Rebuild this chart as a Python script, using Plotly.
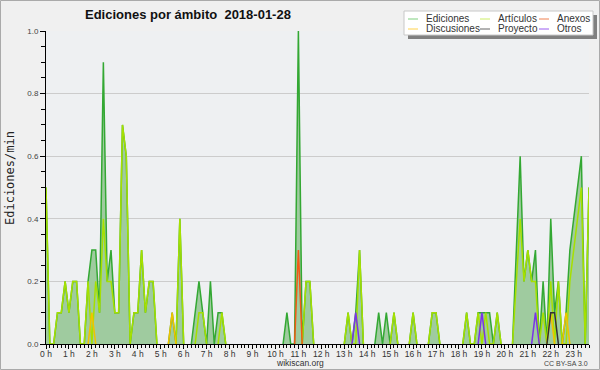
import plotly.graph_objects as go

# 10-minute bins from 00:00 to 23:40 (edits per minute)
ediciones = [
    0.5, 0, 0, 0.1, 0.1, 0.2, 0.1, 0.2, 0.2, 0, 0, 0.2,
    0.3, 0.3, 0.1, 0.9, 0.2, 0.3, 0.1, 0.1, 0.7, 0.6, 0, 0.1,
    0.1, 0.3, 0.1, 0.2, 0.2, 0, 0, 0, 0, 0.1, 0, 0.4,
    0, 0, 0, 0.1, 0.2, 0.1, 0, 0.2, 0, 0.1, 0.1, 0,
    0, 0, 0, 0, 0, 0, 0, 0, 0, 0, 0, 0,
    0, 0, 0, 0.1, 0, 0, 1.0, 0, 0.2, 0.2, 0, 0,
    0, 0, 0, 0, 0, 0, 0, 0.1, 0, 0.1, 0.3, 0,
    0, 0, 0, 0.1, 0, 0.1, 0, 0.1, 0, 0, 0, 0,
    0.1, 0, 0, 0, 0, 0.1, 0.1, 0, 0, 0, 0, 0,
    0, 0, 0.1, 0, 0, 0.1, 0.1, 0.1, 0.1, 0, 0.1, 0,
    0, 0, 0, 0.3, 0.6, 0.2, 0.3, 0.2, 0.3, 0, 0.2, 0,
    0.4, 0.1, 0.2, 0, 0.1, 0.3, 0.4, 0.5, 0.6, 0, 0.5,
]
articulos = [
    0.5, 0, 0, 0.1, 0.1, 0.2, 0.1, 0.2, 0.2, 0, 0, 0.2,
    0, 0.2, 0.1, 0.4, 0.2, 0.2, 0.1, 0.1, 0.7, 0.6, 0, 0.1,
    0.1, 0.3, 0.1, 0.2, 0.2, 0, 0, 0, 0, 0, 0, 0.4,
    0, 0, 0, 0, 0.1, 0.1, 0, 0, 0, 0, 0.1, 0,
    0, 0, 0, 0, 0, 0, 0, 0, 0, 0, 0, 0,
    0, 0, 0, 0, 0, 0, 0, 0, 0.2, 0.2, 0, 0,
    0, 0, 0, 0, 0, 0, 0, 0.1, 0, 0, 0.3, 0,
    0, 0, 0, 0, 0, 0, 0, 0.1, 0, 0, 0, 0,
    0.1, 0, 0, 0, 0, 0.1, 0.1, 0, 0, 0, 0, 0,
    0, 0, 0.1, 0, 0, 0.1, 0, 0.1, 0, 0, 0.1, 0,
    0, 0, 0, 0.2, 0.4, 0.2, 0.3, 0.2, 0.2, 0, 0.1, 0,
    0.2, 0, 0.2, 0, 0, 0.2, 0.3, 0.4, 0.5, 0, 0.5,
]
N = len(ediciones)
discusiones_bins = [12, 33, 132, 136]
discusiones_vals = [0.1, 0.1, 0.1, 0.1]
proyecto_bins = [132, 133]
proyecto_vals = [0.1, 0.1]
anexos_bins = [66]
anexos_vals = [0.3]
otros_bins = [81, 114, 128]
otros_vals = [0.1, 0.1, 0.1]


def dense(bins, vals):
    out = [0.0] * N
    for b, v in zip(bins, vals):
        out[b] = v
    return out


def trim_baseline(vals):
    # hide runs of zeros (keep the zeros next to non-zero values so peaks close)
    out = []
    for i, v in enumerate(vals):
        prev_nz = i > 0 and vals[i - 1] != 0
        next_nz = i < len(vals) - 1 and vals[i + 1] != 0
        out.append(v if (v != 0 or prev_nz or next_nz) else None)
    return out


discusiones = dense(discusiones_bins, discusiones_vals)
proyecto = dense(proyecto_bins, proyecto_vals)
anexos = dense(anexos_bins, anexos_vals)
otros = dense(otros_bins, otros_vals)

hours = [i / 6 for i in range(N)]
hour_ticks = list(range(24))
hour_labels = [f"{h} h" for h in hour_ticks]

FONT = "Liberation Sans, Arial, sans-serif"

series = [
    ("Ediciones", ediciones, "#33a833"),
    ("Artículos", articulos, "#a6e000"),
    ("Discusiones", discusiones, "#f2c200"),
    ("Proyecto", proyecto, "#333333"),
    ("Anexos", anexos, "#f25a14"),
    ("Otros", otros, "#7a33e8"),
]

fig = go.Figure()
for name, vals, color in series:
    kw = {}
    if name == "Ediciones":
        kw = dict(fill="tozeroy", fillcolor="#9fcb9f")
    fig.add_trace(go.Scatter(x=hours, y=trim_baseline(vals), mode="lines", name=name,
                             line=dict(color=color, width=1.5), connectgaps=False,
                             showlegend=False, hoverinfo="skip", **kw))

L, R, T, B = 46, 589, 31, 344
W, H = R - L, B - T


def px(x):
    return (x - L) / W


def py(y):
    return (B - y) / H


shapes = [
    dict(type="rect", xref="paper", yref="paper", x0=px(0.5), x1=px(599.5),
         y0=py(369.5), y1=py(0.5), line=dict(color="#aaaaaa", width=1), layer="above"),
    dict(type="rect", xref="paper", yref="paper", x0=px(408), x1=px(597),
         y0=py(39), y1=py(15), line=dict(width=0), fillcolor="#808080", layer="above"),
    dict(type="rect", xref="paper", yref="paper", x0=px(404), x1=px(593),
         y0=py(35), y1=py(11), line=dict(color="#c8c8c8", width=1),
         fillcolor="#ffffff", layer="above"),
]

legend_items = [
    ("Ediciones", "#7fcf7f", 408, 19),
    ("Artículos", "#cdee66", 480, 19),
    ("Anexos", "#f08050", 539, 19),
    ("Discusiones", "#ffd24d", 408, 29),
    ("Proyecto", "#666666", 480, 29),
    ("Otros", "#9a5cf0", 539, 29),
]
annotations = []
for name, color, lx, ly in legend_items:
    shapes.append(dict(type="line", xref="paper", yref="paper", x0=px(lx), x1=px(lx + 10),
                       y0=py(ly), y1=py(ly), line=dict(color=color, width=1), layer="above"))
    annotations.append(dict(text=name, xref="paper", yref="paper", x=px(lx + 16), y=py(ly),
                            xanchor="left", yanchor="middle", showarrow=False,
                            font=dict(family=FONT, size=10, color="#333333")))

annotations += [
    dict(text="<b>Ediciones por ámbito\u00a0\u00a02018-01-28</b>", xref="paper", yref="paper",
         x=px(188), y=py(14), xanchor="center", yanchor="middle", showarrow=False,
         font=dict(family=FONT, size=13, color="#111111")),
    dict(text="Ediciones/min", xref="paper", yref="paper", x=px(10), y=py(178),
         xanchor="center", yanchor="middle", textangle=-90, showarrow=False,
         font=dict(family="DejaVu Sans Mono, monospace", size=12, color="#222222")),
    dict(text="wikiscan.org", xref="paper", yref="paper", x=px(300), y=py(362.5),
         xanchor="center", yanchor="middle", showarrow=False,
         font=dict(family=FONT, size=8.5, color="#333333")),
    dict(text="CC BY-SA 3.0", xref="paper", yref="paper", x=px(590), y=py(363),
         xanchor="right", yanchor="middle", showarrow=False,
         font=dict(family=FONT, size=7, color="#444444")),
]

fig.update_layout(
    width=600, height=370,
    margin=dict(l=L, r=600 - R, t=T, b=370 - B, pad=0),
    paper_bgcolor="#f0f0f0", plot_bgcolor="#eef0f2",
    font=dict(family=FONT, size=9, color="#333333"),
    showlegend=False,
    shapes=shapes, annotations=annotations,
    xaxis=dict(range=[0, hours[-1]], tickmode="array", tickvals=hour_ticks,
               ticktext=hour_labels, ticks="outside", ticklen=4, tickcolor="#000000",
               tickwidth=1, showgrid=False, zeroline=False, showline=True,
               linecolor="#000000", linewidth=1, tickfont=dict(size=8.5, color="#333333"),
               ticklabelstandoff=-2,
               minor=dict(tickmode="array", tickvals=hours, ticks="outside", ticklen=3,
                          tickcolor="#000000", tickwidth=1, showgrid=False)),
    yaxis=dict(range=[0, 1.0], dtick=0.2, tick0=0, tickformat=".1f", ticks="outside",
               ticklen=5, tickcolor="#000000", tickwidth=1, showgrid=True,
               gridcolor="#cccccc", gridwidth=1, zeroline=False, showline=True,
               linecolor="#000000", linewidth=1, tickfont=dict(size=8, color="#444444"),
               minor=dict(dtick=0.05, ticks="outside", ticklen=4, tickcolor="#000000",
                          tickwidth=1, showgrid=False)),
)

fig.write_html("out.html", config={"displayModeBar": False, "staticPlot": True},
               post_script="document.body.style.margin='0';document.body.style.overflow='hidden';")
